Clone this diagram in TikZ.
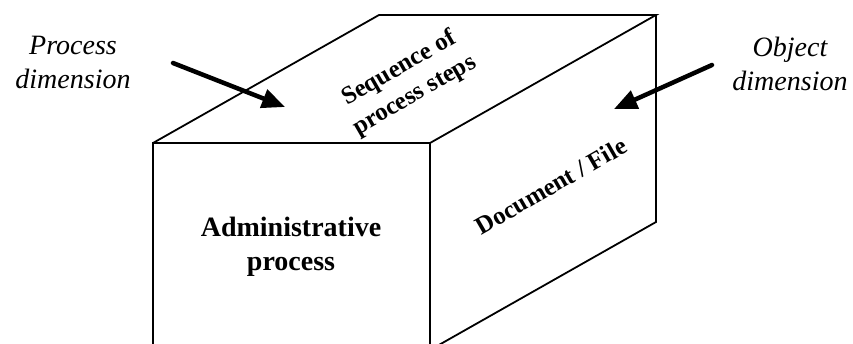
\documentclass[tikz,border=0pt]{standalone}
\usepackage{fontspec}
\setmainfont{Liberation Serif}
\usetikzlibrary{arrows.meta}

\tikzset{
  thickedge/.style={line width=2.6pt, line join=miter},
  thinedge/.style={line width=1.8pt, line join=miter},
  pointer/.style={line width=4.5pt, line cap=round,
    -{Triangle[length=23pt,width=19pt]}},
  dimlabel/.style={align=center, font=\itshape\fontsize{28}{34}\selectfont},
  facelabel/.style={align=center, font=\bfseries\fontsize{28}{34}\selectfont},
  slantlabel/.style={align=center, rotate=30, font=\bfseries\fontsize{25}{31}\selectfont},
}

\begin{document}
\begin{tikzpicture}[x=1pt, y=-1pt]
  \useasboundingbox (0,0) rectangle (853,343);
  \clip (0,0) rectangle (853,343);

  % corners of the box (front face runs below the lower edge)
  \coordinate (fl) at (153,143);
  \coordinate (fr) at (430,143);
  \coordinate (bl) at (379,15);
  \coordinate (br) at (656,15);
  \coordinate (brb) at (656,222);
  \coordinate (flb) at (153,360);
  \coordinate (frb) at (430,360);
  \coordinate (frbb) at (430,350);

  % top and side faces
  \draw[thinedge] (fl) -- (bl) -- (br) -- (fr);
  \draw[thinedge] (br) -- (brb) -- (frbb);
  % front face
  \draw[thickedge] (flb) -- (fl) -- (fr) -- (frb);

  % face texts
  \node[facelabel] (admin) at (291,247) {Administrative\\process};
  \node[slantlabel] (steps) at (407,82) {Sequence of\\process steps};
  \node[slantlabel] (doc) at (551,186) {Document / File};

  % dimension labels
  \node[dimlabel] (procdim) at (73,62) {Process\\dimension};
  \node[dimlabel] (objdim) at (790,64) {Object\\dimension};

  % pointers onto the faces
  \coordinate (pstart) at (173,63);
  \coordinate (ptip) at (285,107);
  \coordinate (ostart) at (712,65);
  \coordinate (otip) at (614,109);
  \draw[pointer] (pstart) -- (ptip);
  \draw[pointer] (ostart) -- (otip);
\end{tikzpicture}
\end{document}
